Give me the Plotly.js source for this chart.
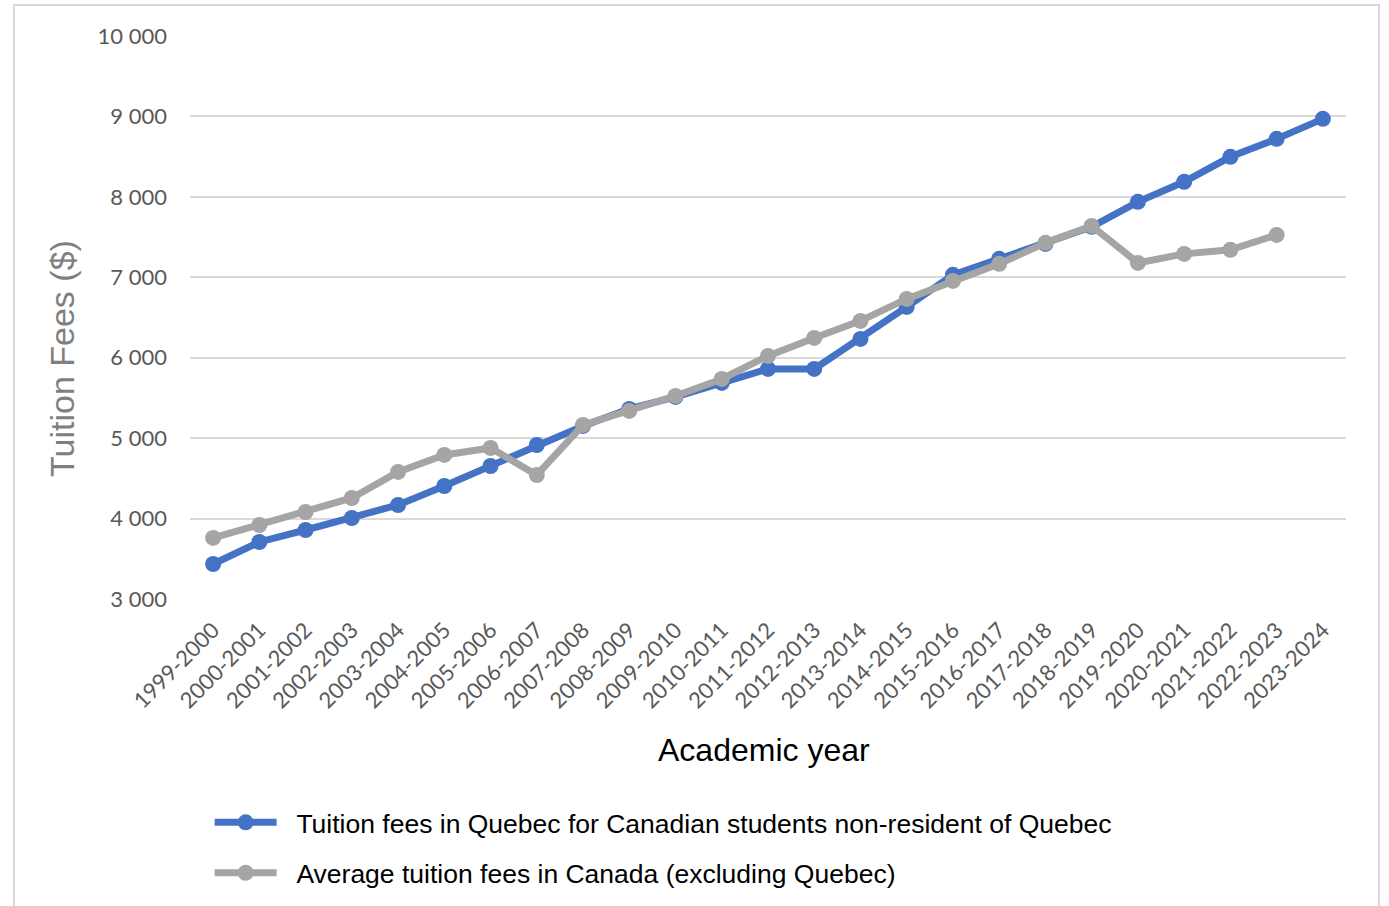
<!DOCTYPE html>
<html>
<head>
<meta charset="utf-8">
<script src="https://cdn.plot.ly/plotly-3.0.1.min.js"></script>
<style>
  html, body { margin: 0; padding: 0; background: #fff; }
  #wrap { position: relative; width: 1389px; height: 906px; }
  #chart { width: 1389px; height: 906px; }
  #frame { position: absolute; left: 13px; top: 4px; width: 1363px; height: 920px;
           border: 2px solid #d9d9d9; pointer-events: none; }
</style>
</head>
<body>
<div id="wrap">
  <div id="chart"></div>
  <div id="frame"></div>
</div>
<script>
const years = ["1999-2000","2000-2001","2001-2002","2002-2003","2003-2004","2004-2005",
  "2005-2006","2006-2007","2007-2008","2008-2009","2009-2010","2010-2011","2011-2012",
  "2012-2013","2013-2014","2014-2015","2015-2016","2016-2017","2017-2018","2018-2019",
  "2019-2020","2020-2021","2021-2022","2022-2023","2023-2024"];

const quebecFees = [3435, 3709, 3858, 4007, 4169, 4405, 4654, 4915, 5152, 5363, 5512, 5687,
  5861, 5861, 6234, 6632, 7030, 7229, 7415, 7627, 7938, 8187, 8498, 8721, 8970];

const canadaAvgFees = [3759, 3920, 4082, 4256, 4580, 4791, 4878, 4542, 5164, 5338, 5525, 5736,
  6022, 6246, 6458, 6731, 6955, 7167, 7428, 7639, 7179, 7291, 7341, 7527];

const seriesNames = ["Tuition fees in Quebec for Canadian students non-resident of Quebec",
  "Average tuition fees in Canada (excluding Quebec)"];

const xTitle = "Academic year";
const yTitle = "Tuition Fees ($)";

const pad = "\u00a0\u00a0";

const traces = [
  {
    x: years, y: quebecFees, name: pad + seriesNames[0], type: "scatter", mode: "lines+markers",
    line: { color: "#4472c4", width: 7 }, marker: { color: "#4472c4", size: 16 },
    legendgroup: "a"
  },
  {
    x: years.slice(0, canadaAvgFees.length), y: canadaAvgFees, name: pad + seriesNames[1],
    type: "scatter", mode: "lines+markers",
    line: { color: "#a5a5a5", width: 7 }, marker: { color: "#a5a5a5", size: 16 },
    legendgroup: "b"
  }
];

const layout = {
  width: 1389, height: 906,
  margin: { l: 190, r: 43, t: 36, b: 307, autoexpand: false },
  paper_bgcolor: "#ffffff", plot_bgcolor: "#ffffff",
  separators: ". ",
  showlegend: true,
  xaxis: {
    type: "category",
    range: [-0.5, years.length - 0.5],
    tickangle: -45,
    tickfont: { family: "Lato, 'Open Sans', sans-serif", size: 22, color: "#595959" },
    showgrid: false, zeroline: false, showline: false, ticks: "",
    ticklabelstandoff: 13,
    automargin: false
  },
  yaxis: {
    range: [3000, 10000],
    dtick: 1000,
    tickformat: ",",
    tickfont: { family: "Lato, 'Open Sans', sans-serif", size: 22, color: "#595959" },
    gridcolor: "#d9d9d9", gridwidth: 1.5,
    zeroline: false, showline: false, ticks: "", ticklabelstandoff: 22,
    automargin: false
  },
  annotations: [
    {
      text: xTitle, xref: "paper", yref: "paper", x: 0.4965, y: -0.268,
      xanchor: "center", yanchor: "middle", showarrow: false,
      font: { family: "'Liberation Sans', Arial, sans-serif", size: 32, color: "#000000" }
    },
    {
      text: yTitle, xref: "paper", yref: "paper", x: -0.1108, y: 0.428,
      xanchor: "center", yanchor: "middle", showarrow: false, textangle: -90,
      font: { family: "'Liberation Sans', Arial, sans-serif", size: 34, color: "#7f7f7f" }
    }
  ],
  legend: {
    orientation: "v",
    x: 0.017, xanchor: "left",
    y: -0.3545, yanchor: "top",
    font: { family: "'Liberation Sans', Arial, sans-serif", size: 26.5, color: "#000000" },
    itemwidth: 62,
    tracegroupgap: 13,
    bgcolor: "rgba(0,0,0,0)"
  }
};

Plotly.newPlot("chart", traces, layout, { displayModeBar: false, responsive: false });
</script>
</body>
</html>
